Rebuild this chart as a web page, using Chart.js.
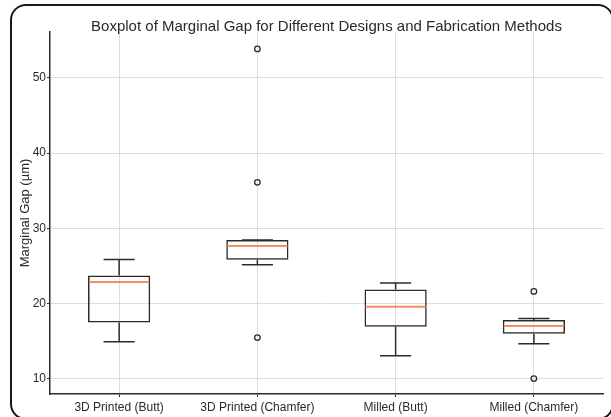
<!DOCTYPE html>
<html><head><meta charset="utf-8">
<script src="https://cdn.jsdelivr.net/npm/chart.js@4"></script>
<style>
html,body{margin:0;padding:0;background:#fff;overflow:hidden;}
#wrap{position:relative;width:611px;height:417px;overflow:hidden;}
#frame{position:absolute;left:10px;top:4px;width:604px;height:416px;border:2px solid #1a1a1a;border-radius:16px;box-sizing:border-box;}
canvas{position:absolute;left:0;top:0;}
</style></head><body>
<div id="wrap"><div id="frame"></div><canvas id="c" width="611" height="417"></canvas></div>
<script>
const chartTitle = 'Boxplot of Marginal Gap for Different Designs and Fabrication Methods';
const yAxisTitle = 'Marginal Gap (µm)';
const categories = ['3D Printed (Butt)', '3D Printed (Chamfer)', 'Milled (Butt)', 'Milled (Chamfer)'];
const q1 = [17.45, 25.8, 16.9, 15.95];
const q3 = [23.7, 28.45, 21.85, 17.8];
const medians = [22.85, 27.65, 19.55, 17.0];
const whiskerLow = [14.9, 25.15, 13.05, 14.65];
const whiskerHigh = [25.85, 28.45, 22.7, 18.0];
const outliers = [[], [53.85, 36.1, 15.45], [], [21.6, 10.0]];
const yTicks = [10, 20, 30, 40, 50];

const FONT = "'Liberation Sans', Arial, sans-serif";
const INK = '#2b2b2b';
const MEDIAN = '#f4905c';

const boxData = categories.map((c, i) => [q1[i], q3[i]]);
const outlierData = [];
categories.forEach((c, i) => outliers[i].forEach(v => outlierData.push({x: c, y: v})));

const boxParts = {
  id: 'boxParts',
  afterDatasetDraw(chart, args) {
    if (args.index !== 0) return;
    const {ctx, scales: {x, y}} = chart;
    const meta = chart.getDatasetMeta(0);
    ctx.save();
    categories.forEach((c, i) => {
      const cx = x.getPixelForValue(i);
      const w = meta.data[i].width;
      const capHalf = w / 4;
      ctx.strokeStyle = INK;
      ctx.lineWidth = 1.5;
      ctx.beginPath();
      ctx.moveTo(cx, y.getPixelForValue(q3[i]));
      ctx.lineTo(cx, y.getPixelForValue(whiskerHigh[i]));
      ctx.moveTo(cx, y.getPixelForValue(q1[i]));
      ctx.lineTo(cx, y.getPixelForValue(whiskerLow[i]));
      const yh = y.getPixelForValue(whiskerHigh[i]);
      const yl = y.getPixelForValue(whiskerLow[i]);
      ctx.moveTo(cx - capHalf, yh); ctx.lineTo(cx + capHalf, yh);
      ctx.moveTo(cx - capHalf, yl); ctx.lineTo(cx + capHalf, yl);
      ctx.stroke();
      ctx.strokeStyle = MEDIAN;
      ctx.lineWidth = 2;
      const ym = y.getPixelForValue(medians[i]);
      ctx.beginPath();
      ctx.moveTo(cx - w / 2 + 1, ym); ctx.lineTo(cx + w / 2 - 1, ym);
      ctx.stroke();
    });
    ctx.restore();
  },
  afterDraw(chart) {
    const {ctx, chartArea} = chart;
    ctx.save();
    ctx.fillStyle = '#2a2a2a';
    ctx.font = '15px ' + FONT;
    ctx.textAlign = 'center';
    ctx.textBaseline = 'alphabetic';
    ctx.fillText(chartTitle, (chartArea.left + chartArea.right) / 2, 31);
    ctx.restore();
  }
};

new Chart(document.getElementById('c'), {
  type: 'bar',
  data: {
    labels: categories,
    datasets: [
      {
        type: 'bar',
        data: boxData,
        backgroundColor: 'rgba(255,255,255,0)',
        borderColor: INK,
        borderWidth: 1.5,
        borderSkipped: false,
        barPercentage: 0.45,
        categoryPercentage: 1.0,
        order: 2
      },
      {
        type: 'line',
        data: outlierData,
        showLine: false,
        pointStyle: 'circle',
        pointRadius: 2.8,
        pointBorderWidth: 1.3,
        pointBorderColor: INK,
        pointBackgroundColor: 'rgba(255,255,255,0)',
        order: 1
      }
    ]
  },
  options: {
    responsive: false,
    animation: false,
    layout: {padding: {left: 0, right: 8, top: 32, bottom: 0}},
    plugins: {legend: {display: false}, tooltip: {enabled: false}, title: {display: false}},
    scales: {
      x: {
        type: 'category',
        offset: true,
        afterFit: s => { s.height = 23; },
        grid: {offset: false, color: '#d4d4d4', lineWidth: 0.8, borderDash: [2, 2], tickLength: 3, tickColor: INK, tickWidth: 1, tickBorderDash: []},
        border: {color: INK, width: 1.5},
        ticks: {color: '#2a2a2a', font: {family: FONT, size: 12}, padding: 3, maxRotation: 0, autoSkip: false}
      },
      y: {
        type: 'linear',
        min: 7.95,
        max: 56.1,
        afterBuildTicks: s => { s.ticks = yTicks.map(v => ({value: v})); },
        afterFit: s => { s.width = 50; },
        grid: {color: '#d4d4d4', lineWidth: 0.8, borderDash: [2, 2], tickLength: 3, tickColor: INK, tickWidth: 1, tickBorderDash: []},
        border: {color: INK, width: 1.5},
        ticks: {color: '#2a2a2a', font: {family: FONT, size: 12}, padding: 1},
        title: {display: true, text: yAxisTitle, color: '#2a2a2a', font: {family: FONT, size: 13}, padding: {top: 18, bottom: 0}}
      }
    }
  },
  plugins: [boxParts]
});
</script>
</body></html>
